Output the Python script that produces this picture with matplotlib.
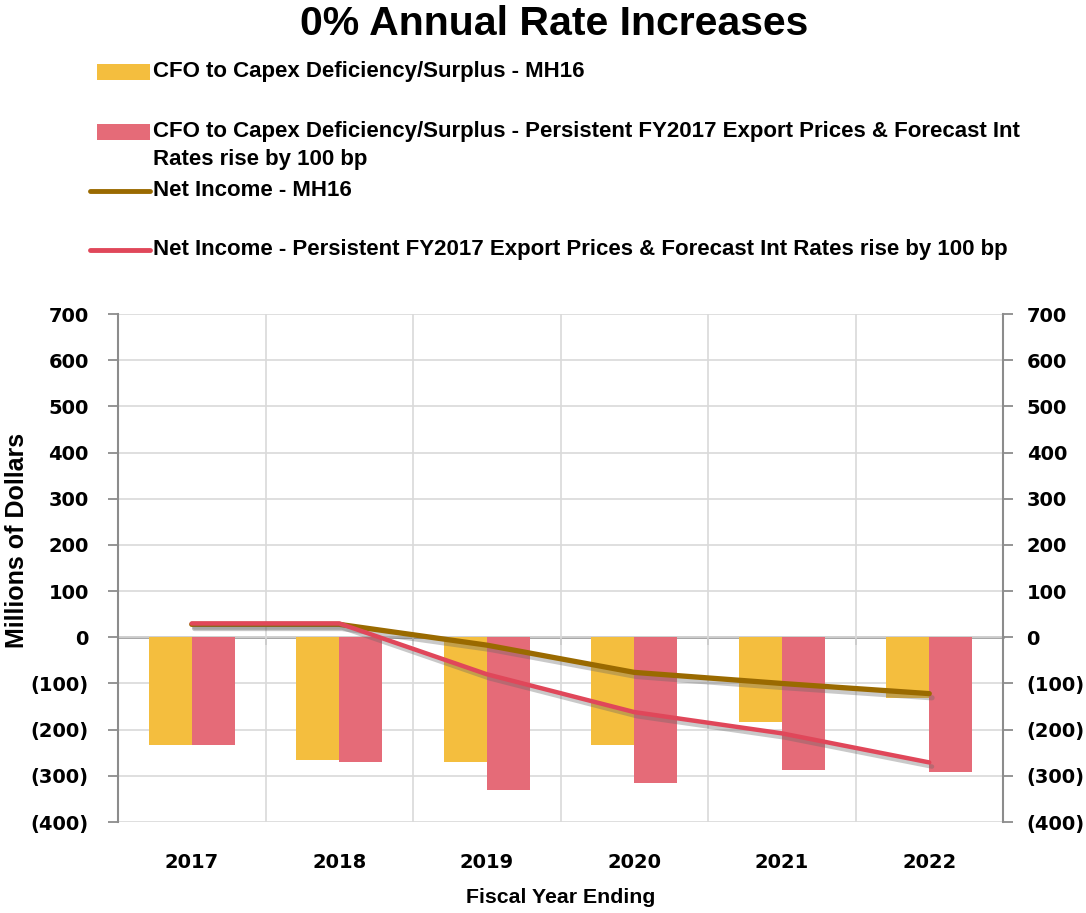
import numpy as np
import matplotlib.pyplot as plt
import matplotlib.patheffects as pe
from matplotlib.patches import Rectangle
from matplotlib.lines import Line2D
from matplotlib.ticker import FuncFormatter

# --- data ---
years = ["2017", "2018", "2019", "2020", "2021", "2022"]
cfo_mh16 = [-234, -266, -271, -234, -184, -132]
cfo_persistent = [-234, -271, -330, -316, -288, -292]
ni_mh16 = [28, 28, -17, -76, -100, -122]
ni_persistent = [30, 30, -80, -162, -208, -271]

legend_labels = [
    "CFO to Capex Deficiency/Surplus - MH16",
    "CFO to Capex Deficiency/Surplus - Persistent FY2017 Export Prices & Forecast Int\nRates rise by 100 bp",
    "Net Income - MH16",
    "Net Income - Persistent FY2017 Export Prices & Forecast Int Rates rise by 100 bp",
]

yellow = "#F4BE3E"
pink = "#E56B78"
brown = "#9A6A00"
red = "#E0475A"
axis_gray = "#8C8C8C"
grid_gray = "#D9D9D9"
label_font = ["Liberation Sans Narrow", "Liberation Sans", "DejaVu Sans"]

W, H = 1086, 913
fig = plt.figure(figsize=(W / 100, H / 100), dpi=100)
ax = fig.add_axes([118 / W, 1 - 822 / H, (1003 - 118) / W, (822 - 314) / H])

x = np.arange(len(years))
bw = 0.29
ax.bar(x - bw / 2, cfo_mh16, width=bw, color=yellow, zorder=2)
ax.bar(x + bw / 2, cfo_persistent, width=bw, color=pink, zorder=2)

shadow = [pe.SimpleLineShadow(offset=(2, -3), shadow_color="#666666", alpha=0.35), pe.Normal()]
ax.plot(x, ni_mh16, color=brown, lw=3.8, solid_capstyle="round", zorder=4, path_effects=shadow)
ax.plot(x, ni_persistent, color=red, lw=3.2, solid_capstyle="round", zorder=5, path_effects=shadow)

ymin, ymax = -400, 700
ax.set_xlim(-0.5, len(years) - 0.5)
ax.set_ylim(ymin, ymax)
yticks = np.arange(ymin, ymax + 1, 100)
fmt = FuncFormatter(lambda v, p: f"({abs(int(v))})" if v < 0 else f"{int(v)}")

ax.set_yticks(yticks)
ax.yaxis.set_major_formatter(fmt)
ax.grid(axis="y", color=grid_gray, lw=1.2, zorder=0)
ax.set_xticks(x)
ax.set_xticklabels(years)
ax.set_xticks(x[:-1] + 0.5, minor=True)
ax.grid(axis="x", which="minor", color=grid_gray, lw=1.2, zorder=0)
ax.tick_params(axis="x", which="both", length=0, pad=22)
ax.tick_params(axis="y", direction="out", length=7, width=1.3, color=axis_gray, pad=14)
for lab in ax.get_xticklabels() + ax.get_yticklabels():
    lab.set_fontsize(14)
    lab.set_fontweight("bold")
    lab.set_family("DejaVu Sans")

for side in ["top", "bottom", "right"]:
    ax.spines[side].set_visible(False)
ax.spines["left"].set_color(axis_gray)
ax.spines["left"].set_linewidth(1.5)

# zero axis with boundary ticks
ax0 = ax.secondary_xaxis((0 - ymin) / (ymax - ymin))
ax0.set_xticks(x[:-1] + 0.5)
ax0.tick_params(direction="out", length=6, width=1.3, color=axis_gray, labelbottom=False, labeltop=False)
ax0.spines["bottom"].set_color(axis_gray)
ax0.spines["bottom"].set_linewidth(1.8)
ax0.spines["top"].set_visible(False)

# right axis
ax2 = ax.twinx()
ax2.set_ylim(ymin, ymax)
ax2.set_yticks(yticks)
ax2.yaxis.set_major_formatter(fmt)
ax2.tick_params(axis="y", direction="out", length=7, width=1.3, color=axis_gray, pad=10)
for lab in ax2.get_yticklabels():
    lab.set_fontsize(14)
    lab.set_fontweight("bold")
for side in ["top", "bottom", "left"]:
    ax2.spines[side].set_visible(False)
ax2.spines["right"].set_color(axis_gray)
ax2.spines["right"].set_linewidth(1.5)

ax.set_xlabel("Fiscal Year Ending", family=label_font, fontsize=15.3, fontweight="bold", labelpad=12)
ax.set_ylabel("Millions of Dollars", family=label_font, fontsize=18, fontweight="bold")
ax.yaxis.set_label_coords(-0.1, 0.555)

fig.text(554 / W, 1 - 24 / H, "0% Annual Rate Increases", family=label_font,
         fontsize=29.5, fontweight="bold", ha="center", va="center")

# legend drawn by hand so the wrapped entry keeps its handle on the first line
entries = [
    ("patch", yellow, 72),
    ("patch", pink, 132),
    ("line", brown, 191),
    ("line", red, 250),
]
for (kind, col, yc), label in zip(entries, legend_labels):
    yf = 1 - yc / H
    if kind == "patch":
        fig.add_artist(Rectangle((97 / W, yf - 8 / H), 53 / W, 16 / H, transform=fig.transFigure,
                                 color=col, lw=0))
    else:
        fig.add_artist(Line2D([90 / W, 150 / W], [yf, yf], transform=fig.transFigure,
                              color=col, lw=3.5, solid_capstyle="round"))
    fig.text(153 / W, yf + 11 / H, label, family=label_font, fontsize=16, fontweight="bold",
             ha="left", va="top", linespacing=1.45)

fig.savefig("out.png", dpi=100)
